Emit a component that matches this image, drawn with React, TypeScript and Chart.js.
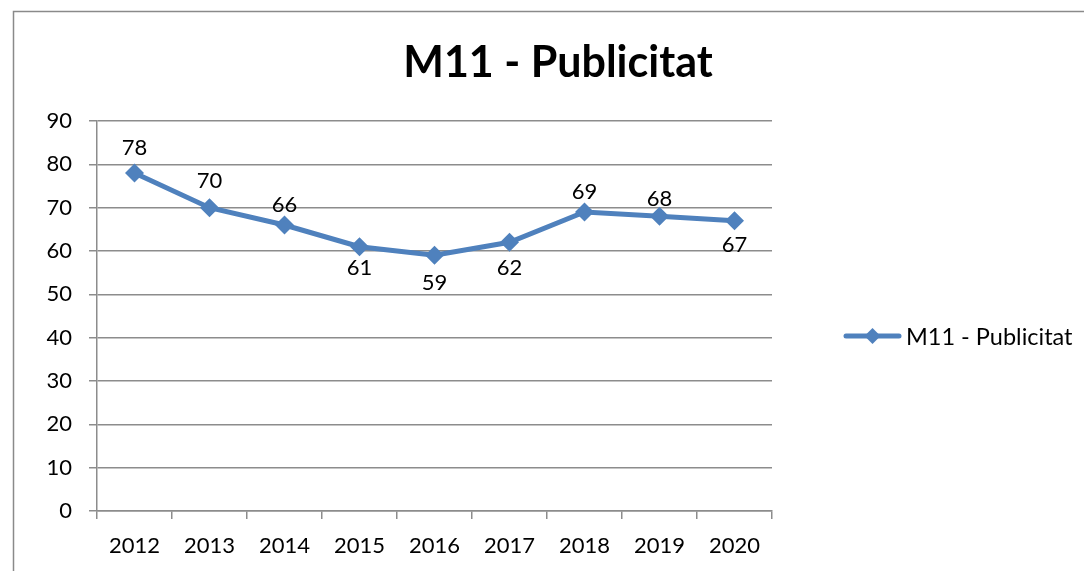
import React, { useEffect, useRef } from "react";
import { Chart, registerables } from "chart.js";

Chart.register(...registerables);

const categories = ["2012", "2013", "2014", "2015", "2016", "2017", "2018", "2019", "2020"];
const seriesName = "M11 - Publicitat";
const values = [78, 70, 66, 61, 59, 62, 69, 68, 67];
// vertical offset (px) of each data label from its point (negative = above)
const labelOffsets = [-25, -27, -20, 21, 28, 26, -20, -17, 24];
const yTicks = [0, 10, 20, 30, 40, 50, 60, 70, 80, 90];

const FONT = "Lato, 'Open Sans', sans-serif";
const LINE_COLOR = "#4F81BD";
const GRID_COLOR = "#8C8C8C";

export default function App() {
  const ref = useRef<HTMLCanvasElement | null>(null);

  useEffect(() => {
    document.body.style.margin = "0";
    const canvas = ref.current;
    if (!canvas) return;

    const decor = {
      id: "decor",
      beforeDraw(chart: any) {
        const ctx = chart.ctx;
        ctx.save();
        ctx.fillStyle = "#ffffff";
        ctx.fillRect(0, 0, chart.width, chart.height);
        ctx.strokeStyle = "#8a8a8a";
        ctx.lineWidth = 1.5;
        ctx.strokeRect(13.5, 11.5, 3000, 3000);
        ctx.restore();
      },
      afterDraw(chart: any) {
        const ctx = chart.ctx;
        ctx.save();
        // title
        ctx.fillStyle = "#000";
        ctx.font = `bold 43px ${FONT}`;
        ctx.textAlign = "center";
        ctx.textBaseline = "middle";
        ctx.fillText(seriesName, 558, 63);
        // data labels
        ctx.font = `22px ${FONT}`;
        const meta = chart.getDatasetMeta(0);
        meta.data.forEach((pt: any, i: number) => {
          ctx.fillText(String(values[i]), pt.x, pt.y + labelOffsets[i]);
        });
        // legend
        const ly = 336;
        ctx.strokeStyle = LINE_COLOR;
        ctx.lineWidth = 5;
        ctx.lineCap = "round";
        ctx.beginPath();
        ctx.moveTo(846, ly);
        ctx.lineTo(899, ly);
        ctx.stroke();
        ctx.fillStyle = LINE_COLOR;
        ctx.beginPath();
        ctx.moveTo(872.5, ly - 8);
        ctx.lineTo(880.5, ly);
        ctx.lineTo(872.5, ly + 8);
        ctx.lineTo(864.5, ly);
        ctx.closePath();
        ctx.fill();
        ctx.fillStyle = "#000";
        ctx.textAlign = "left";
        ctx.font = `23.5px ${FONT}`;
        ctx.fillText(seriesName, 906, ly + 1);
        ctx.restore();
      },
    };

    const chart = new Chart(canvas, {
      type: "line",
      data: {
        labels: categories,
        datasets: [
          {
            label: seriesName,
            data: values,
            borderColor: LINE_COLOR,
            backgroundColor: LINE_COLOR,
            borderWidth: 5,
            pointStyle: "rectRot",
            pointRadius: 9.5,
            pointBackgroundColor: LINE_COLOR,
            pointBorderColor: LINE_COLOR,
            pointBorderWidth: 0,
            tension: 0,
          },
        ],
      },
      options: {
        animation: false,
        responsive: false,
        devicePixelRatio: 1,
        layout: { padding: { left: 0, right: 312, top: 121, bottom: 0 } },
        plugins: {
          legend: { display: false },
          title: { display: false },
          tooltip: { enabled: false },
        },
        scales: {
          x: {
            offset: true,
            grid: {
              offset: true,
              drawOnChartArea: false,
              drawTicks: true,
              tickLength: 8,
              color: GRID_COLOR,
              lineWidth: 1.5,
            },
            border: { color: GRID_COLOR, width: 1.5 },
            ticks: {
              color: "#000",
              font: { family: FONT, size: 22 },
              padding: 14,
              maxRotation: 0,
              autoSkip: false,
            },
            afterFit(scale: any) {
              scale.height = 60;
            },
          },
          y: {
            min: 0,
            max: 90,
            afterBuildTicks(scale: any) {
              scale.ticks = yTicks.map((v) => ({ value: v }));
            },
            grid: {
              color: GRID_COLOR,
              lineWidth: 1.5,
              tickLength: 8,
            },
            border: { color: GRID_COLOR, width: 1.5 },
            ticks: {
              color: "#000",
              font: { family: FONT, size: 22 },
              padding: 17,
            },
            afterFit(scale: any) {
              scale.width = 97;
            },
          },
        },
      },
      plugins: [decor],
    });

    return () => chart.destroy();
  }, []);

  return (
    <div style={{ position: "absolute", left: 0, top: 0, width: 1084, height: 571 }}>
      <canvas ref={ref} width={1084} height={571} style={{ width: 1084, height: 571 }} />
    </div>
  );
}
